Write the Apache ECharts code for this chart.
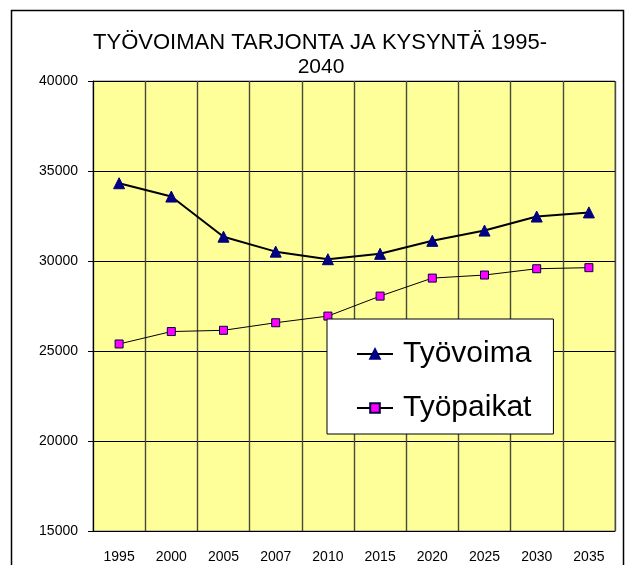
<!DOCTYPE html>
<html>
<head>
<meta charset="utf-8">
<script src="https://cdn.jsdelivr.net/npm/echarts@6/dist/echarts.min.js"></script>
<style>
  html, body { margin: 0; padding: 0; background: #ffffff; }
  #chart { width: 630px; height: 565px; }
</style>
</head>
<body>
<div id="chart"></div>
<script>
// Years on the category axis
const years = ['1995', '2000', '2005', '2007', '2010', '2015', '2020', '2025', '2030', '2035'];
// Labour supply (Työvoima)
const tyovoima = [34320, 33580, 31350, 30520, 30100, 30400, 31120, 31690, 32470, 32700];
// Jobs (Työpaikat)
const tyopaikat = [25390, 26080, 26150, 26570, 26940, 28050, 29050, 29220, 29570, 29630];
// Chart title lines
const titleLines = ['TYÖVOIMAN TARJONTA JA KYSYNTÄ 1995-', '2040'];

const FONT = '"Liberation Sans", Arial, sans-serif';
const chart = echarts.init(document.getElementById('chart'), null, { renderer: 'canvas' });

chart.setOption({
  backgroundColor: '#ffffff',
  animation: false,
  graphic: [
    {
      type: 'rect',
      shape: { x: 11.5, y: 10.5, width: 612, height: 570 },
      style: { fill: 'none', stroke: '#000000', lineWidth: 1.5 },
      z: 0
    },
    {
      type: 'text',
      x: 320, y: 43,
      style: {
        text: titleLines[0], font: '22px ' + FONT, fill: '#000000',
        align: 'center', verticalAlign: 'middle'
      }
    },
    {
      type: 'text',
      x: 321, y: 67,
      style: {
        text: titleLines[1], font: '21px ' + FONT, fill: '#000000',
        align: 'center', verticalAlign: 'middle'
      }
    }
  ],
  grid: {
    left: 93, right: 15, top: 81, bottom: 34,
    show: true, backgroundColor: '#ffff99',
    borderColor: '#808080', borderWidth: 1
  },
  legend: {
    orient: 'vertical',
    left: 327, top: 319,
    backgroundColor: '#ffffff',
    borderColor: '#000000', borderWidth: 1,
    padding: [20, 22, 11, 29],
    itemGap: 24,
    itemWidth: 36, itemHeight: 12,
    textStyle: { fontFamily: FONT, fontSize: 30, color: '#000000', padding: [0, 0, 0, 5] },
    data: ['Työvoima', 'Työpaikat']
  },
  xAxis: {
    type: 'category',
    data: years,
    boundaryGap: true,
    axisLine: { lineStyle: { color: '#000000', width: 1 } },
    axisTick: { show: false },
    axisLabel: { fontFamily: FONT, fontSize: 14, color: '#000000', margin: 19, interval: 0 },
    splitLine: { show: true, lineStyle: { color: '#4a4a3c', width: 1.4 } }
  },
  yAxis: {
    type: 'value',
    min: 15000, max: 40000, interval: 5000,
    axisLine: { show: true, lineStyle: { color: '#000000', width: 1 } },
    axisTick: { show: true, length: 5, lineStyle: { color: '#000000' } },
    axisLabel: {
      fontFamily: FONT, fontSize: 14, color: '#000000', margin: 15,
      formatter: (v) => String(v)
    },
    splitLine: { show: true, lineStyle: { color: '#000000', width: 1 } }
  },
  series: [
    {
      name: 'Työvoima',
      type: 'line',
      data: tyovoima,
      symbol: 'triangle',
      symbolSize: 11,
      lineStyle: { color: '#000000', width: 2 },
      itemStyle: { color: '#000080', borderColor: '#000080', borderWidth: 1 },
      z: 3
    },
    {
      name: 'Työpaikat',
      type: 'line',
      data: tyopaikat,
      symbol: 'rect',
      symbolSize: 8,
      lineStyle: { color: '#000000', width: 1 },
      itemStyle: { color: '#ff00ff', borderColor: '#000040', borderWidth: 1 },
      z: 2
    }
  ]
});
</script>
</body>
</html>
